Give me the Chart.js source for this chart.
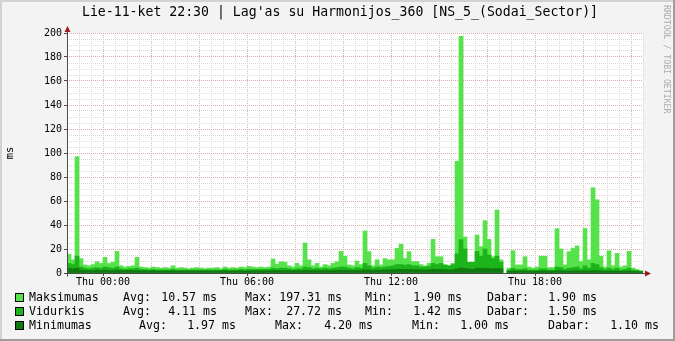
<!DOCTYPE html>
<html>
<head>
<meta charset="utf-8">
<title>Lag'as su Harmonijos_360</title>
<script src="https://cdn.jsdelivr.net/npm/chart.js@4.4.1/dist/chart.umd.min.js"></script>
<style>
  html, body { margin: 0; padding: 0; background: #f3f3f3; }
  canvas { display: block; }
</style>
</head>
<body>
<canvas id="pingChart" width="675" height="341"></canvas>
<script>
const titleText = "Lie-11-ket 22:30 | Lag'as su Harmonijos_360 [NS_5_(Sodai_Sector)]";

// one value per 10 minutes, hours relative to Thu 00:00
const startHour = -1.5;
const stepHours = 1 / 6;

const maxValues = [
  15.5, 11, 97, 12, 6.7, 6, 7, 9.4, 8, 13, 8, 9,
  18, 6, 5, 5.5, 6, 13, 5, 4.5, 4, 5, 4.5, 4,
  4.5, 4, 6, 4, 4.5, 4, 3.5, 4, 4.5, 4, 3.5, 4,
  4, 4.5, 3.5, 5, 4, 4.5, 4, 5, 4.5, 5.5, 5, 4.5,
  5, 4.5, 5, 11.7, 7.5, 9.4, 9, 6, 5, 8, 6, 25,
  11, 6, 8, 5, 7, 6, 8, 9.4, 18, 14, 6.7, 6,
  10, 7, 35, 17.8, 6, 11, 6.7, 12, 11, 11, 20.5, 24,
  12, 17.8, 9.5, 9.5, 7, 6, 8, 28, 13.6, 13.6, 7, 6,
  8, 93, 197.31, 30, 5, 5, 31.7, 22, 43.6, 28, 13.6, 52.5,
  11, null, 4, 18.6, 6.7, 6.7, 13.6, 5, 4, 5, 14, 14,
  4.5, 4.5, 37, 20, 6.7, 17.8, 20.5, 22.5, 9.5, 37, 11, 71,
  61, 14, 5, 18.6, 6, 16.4, 5, 6, 18, 4, 3, 1.9
];
const avgValues = [
  8, 7, 14, 5, 4, 3.5, 4, 4.5, 4, 5, 4.5, 4,
  5, 3.5, 3, 3.5, 3.5, 4, 3, 3, 2.5, 3, 2.5, 2.5,
  2.5, 2.5, 3, 2.5, 2.5, 2.5, 2.5, 2.5, 2.5, 2.5, 2.5, 2.5,
  2.5, 2.5, 2.5, 3, 2.5, 2.5, 2.5, 3, 2.5, 3, 3, 3,
  3, 3, 3, 4, 3.5, 4, 4, 3.5, 3, 3.5, 3.5, 5,
  4.5, 3.5, 4, 3.5, 4, 3.5, 4, 4.5, 5, 5, 4, 3.5,
  4.5, 4, 8, 6, 4, 5, 4.5, 5, 5.5, 6, 7, 7,
  6.5, 7, 6, 6, 5, 5, 5.5, 8, 7, 8, 6.5, 6,
  7, 16, 27.72, 20, 9, 9, 18, 14, 20, 15, 12, 14,
  9, null, 2.5, 4, 3, 3, 3.5, 2.5, 2.5, 2.5, 3.5, 3.5,
  2.5, 2.5, 5, 4.5, 3, 4, 4.5, 5, 3.5, 6, 4, 8,
  7, 4.5, 3, 4, 3, 4, 2.5, 3, 4, 2.5, 2, 1.5
];
const minValues = [
  4, 3.5, 4, 2.5, 2, 2, 2, 2.5, 2, 2.5, 2, 2,
  2.5, 2, 2, 2, 2, 2, 1.8, 1.8, 1.7, 1.8, 1.7, 1.7,
  1.7, 1.7, 1.8, 1.7, 1.7, 1.7, 1.7, 1.7, 1.8, 1.7, 1.7, 1.7,
  1.7, 1.7, 1.7, 1.8, 1.7, 1.7, 1.7, 1.8, 1.7, 1.8, 1.8, 1.8,
  1.8, 1.8, 1.8, 2, 2, 2, 2, 1.9, 1.8, 1.9, 1.9, 2.2,
  2.1, 2, 2, 2, 2, 2, 2, 2.2, 2.3, 2.3, 2.1, 2,
  2.2, 2.1, 2.6, 2.5, 2.2, 2.4, 2.3, 2.5, 2.6, 2.8, 3, 3,
  3, 3, 2.8, 2.8, 2.6, 2.6, 2.7, 3.2, 3, 3, 2.8, 2.6,
  2.8, 3.5, 4.2, 3.8, 3.2, 3.2, 4, 3.8, 4, 3.8, 3.5, 3.8,
  3.5, null, 1.6, 1.8, 1.6, 1.6, 1.7, 1.5, 1.5, 1.5, 1.7, 1.7,
  1.5, 1.5, 1.9, 1.8, 1.6, 1.7, 1.8, 1.8, 1.6, 1.9, 1.7, 2,
  2, 1.7, 1.5, 1.6, 1.5, 1.6, 1.4, 1.5, 1.6, 1.4, 1.2, 1.1
];

const tickHours = [0, 6, 12, 18];
const tickLabels = ['Thu 00:00', 'Thu 06:00', 'Thu 12:00', 'Thu 18:00'];

// legend
const seriesNames = ['Maksimumas', 'Vidurkis', 'Minimumas'];
const seriesColors = ['#56e24a', '#1db31b', '#0f7b0f'];
const statAvg = [10.57, 4.11, 1.97];
const statMax = [197.31, 27.72, 4.20];
const statMin = [1.90, 1.42, 1.00];
const statNow = [1.90, 1.50, 1.10];

const mono = '"DejaVu Sans Mono", "Liberation Mono", monospace';

function toPoints(values) {
  return values.map((v, i) => ({ x: startHour + (i + 0.5) * stepHours, y: v }));
}

function gridColor(major) {
  return ctx => (ctx.tick && ctx.tick.value % major === 0) ? '#dcaaaa' : '#dadada';
}

// background, axes with arrows, title, watermark and legend like rrdtool draws them
const rrdFrame = {
  id: 'rrdFrame',
  beforeDraw(chart) {
    const { ctx, chartArea: a, width, height } = chart;
    ctx.save();
    ctx.fillStyle = '#f3f3f3';
    ctx.fillRect(0, 0, width, height);
    ctx.fillStyle = '#d2d2d2';
    ctx.fillRect(0, 0, width, 2);
    ctx.fillRect(0, 0, 2, height);
    ctx.fillStyle = '#9e9e9e';
    ctx.fillRect(0, height - 2, width, 2);
    ctx.fillRect(width - 2, 0, 2, height);
    ctx.fillStyle = '#ffffff';
    ctx.fillRect(a.left, a.top, a.right - a.left, a.bottom - a.top);
    ctx.restore();
  },
  afterDatasetsDraw(chart) {
    const { ctx, chartArea: a } = chart;
    const ax = a.left + 0.5;
    const ay = a.bottom + 0.5;
    ctx.save();
    ctx.strokeStyle = '#4a4a4a';
    ctx.lineWidth = 1;
    ctx.beginPath();
    ctx.moveTo(ax, ay + 3);
    ctx.lineTo(ax, a.top - 4);
    ctx.moveTo(ax - 3, ay);
    ctx.lineTo(a.right + 4, ay);
    ctx.stroke();
    ctx.fillStyle = '#9b1c1c';
    ctx.beginPath();
    ctx.moveTo(ax, a.top - 7);
    ctx.lineTo(ax - 3, a.top - 1);
    ctx.lineTo(ax + 3, a.top - 1);
    ctx.closePath();
    ctx.fill();
    ctx.beginPath();
    ctx.moveTo(a.right + 8, ay);
    ctx.lineTo(a.right + 2, ay - 3);
    ctx.lineTo(a.right + 2, ay + 3);
    ctx.closePath();
    ctx.fill();
    ctx.restore();
  },
  afterDraw(chart) {
    const { ctx } = chart;
    ctx.save();
    ctx.fillStyle = '#000';
    ctx.textBaseline = 'middle';
    ctx.textAlign = 'center';
    ctx.font = '13.2px ' + mono;
    ctx.fillText(titleText, 340, 13);

    // watermark
    ctx.save();
    ctx.translate(666, 5);
    ctx.rotate(Math.PI / 2);
    ctx.fillStyle = '#aaaaaa';
    ctx.font = '8.2px ' + mono;
    ctx.textAlign = 'left';
    ctx.fillText('RRDTOOL / TOBI OETIKER', 0, 0);
    ctx.restore();

    // legend rows: label x, value right edge for Avg, Max, Min, Dabar
    const cols = [
      [[123, 217], [245, 342], [365, 462], [487, 597]],
      [[123, 217], [245, 342], [365, 462], [487, 597]],
      [[139, 236], [275, 373], [412, 509], [548, 659]]
    ];
    const rowY = [298, 312, 326];
    const names = ['Avg:', 'Max:', 'Min:', 'Dabar:'];
    ctx.font = '11.6px ' + mono;
    seriesNames.forEach((name, r) => {
      const y = rowY[r];
      ctx.fillStyle = seriesColors[r];
      ctx.fillRect(15, y - 5, 9, 9);
      ctx.strokeStyle = '#000';
      ctx.lineWidth = 1;
      ctx.strokeRect(15.5, y - 4.5, 8, 8);
      ctx.fillStyle = '#000';
      ctx.textAlign = 'left';
      ctx.fillText(name, 29, y);
      const vals = [statAvg[r], statMax[r], statMin[r], statNow[r]];
      vals.forEach((v, k) => {
        ctx.textAlign = 'left';
        ctx.fillText(names[k], cols[r][k][0], y);
        ctx.textAlign = 'right';
        ctx.fillText(v.toFixed(2) + ' ms', cols[r][k][1], y);
      });
    });
    ctx.restore();
  }
};

const barStyle = {
  borderWidth: 0,
  grouped: false,
  barPercentage: 1,
  categoryPercentage: 1
};

const pingChart = new Chart(document.getElementById('pingChart'), {
  type: 'bar',
  data: {
    datasets: [
      { label: seriesNames[2], data: toPoints(minValues), backgroundColor: seriesColors[2], order: 1, ...barStyle },
      { label: seriesNames[1], data: toPoints(avgValues), backgroundColor: seriesColors[1], order: 2, ...barStyle },
      { label: seriesNames[0], data: toPoints(maxValues), backgroundColor: seriesColors[0], order: 3, ...barStyle }
    ]
  },
  options: {
    responsive: false,
    animation: false,
    layout: { padding: { left: 0, top: 33, right: 32, bottom: 0 } },
    plugins: {
      legend: { display: false },
      title: { display: false },
      tooltip: { enabled: false }
    },
    scales: {
      x: {
        type: 'linear',
        min: startHour,
        max: startHour + maxValues.length * stepHours,
        offset: false,
        afterFit: scale => { scale.height = 68; },
        grid: {
          offset: false,
          color: gridColor(2),
          lineWidth: 1,
          tickLength: 3,
          tickColor: ctx => (ctx.tick && tickHours.includes(ctx.tick.value)) ? '#4a4a4a' : 'rgba(0,0,0,0)'
        },
        border: { display: false, dash: [1, 1] },
        ticks: {
          stepSize: 0.5,
          autoSkip: false,
          maxRotation: 0,
          padding: 0,
          color: '#000',
          font: { family: mono, size: 10 },
          callback: v => {
            const k = tickHours.indexOf(v);
            return k >= 0 ? tickLabels[k] : '';
          }
        }
      },
      y: {
        min: 0,
        max: 200,
        afterFit: scale => { scale.width = 67; },
        grid: {
          color: gridColor(20),
          lineWidth: 1,
          tickLength: 3,
          tickColor: ctx => (ctx.tick && ctx.tick.value % 20 === 0) ? '#4a4a4a' : 'rgba(0,0,0,0)'
        },
        border: { display: false, dash: [1, 1] },
        title: {
          display: true,
          text: 'ms',
          color: '#000',
          font: { family: mono, size: 10.5 },
          padding: { top: 4, bottom: 0 }
        },
        ticks: {
          stepSize: 5,
          autoSkip: false,
          padding: 2,
          color: '#000',
          font: { family: mono, size: 10 },
          callback: v => (v % 20 === 0 ? String(v) : '')
        }
      }
    }
  },
  plugins: [rrdFrame]
});
</script>
</body>
</html>
